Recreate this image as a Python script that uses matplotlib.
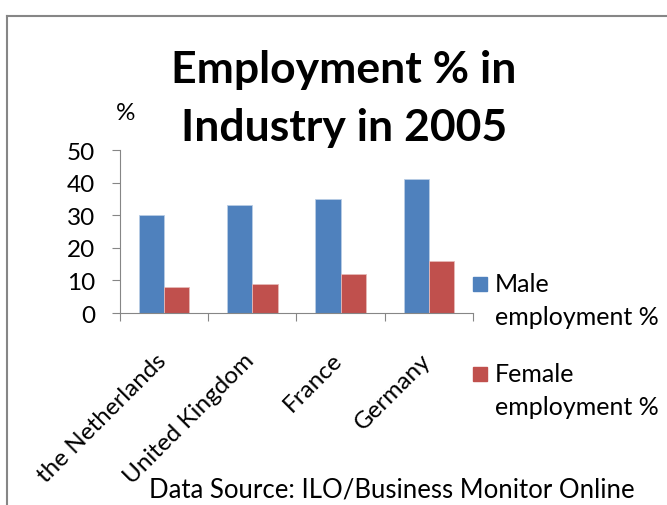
import matplotlib.pyplot as plt
from matplotlib.lines import Line2D
from matplotlib.patches import Rectangle
from matplotlib.transforms import ScaledTranslation
import numpy as np

plt.rcParams["font.family"] = ["Lato", "DejaVu Sans"]

countries = ["the Netherlands", "United Kingdom", "France", "Germany"]
male_pct = [30, 33, 35, 41]
female_pct = [8, 9, 12, 16]
y_ticks = [0, 10, 20, 30, 40, 50]
series_names = ["Male\nemployment %", "Female\nemployment %"]

BLUE = "#4f81bd"
RED = "#c0504d"
GREY = "#868686"

fig = plt.figure(figsize=(6.67, 5.06), dpi=100)
ax = fig.add_axes([0.18, 0.3794, 0.529, 0.3221])

x = np.arange(len(countries))
width = 0.286
ax.bar(x - width / 2, male_pct, width, color=BLUE, edgecolor="#b9cde5", linewidth=0.6)
ax.bar(x + width / 2, female_pct, width, color=RED, edgecolor="#e6b9b8", linewidth=0.6)

ax.set_xlim(-0.5, len(countries) - 0.5)
ax.set_ylim(0, 50)
ax.set_yticks(y_ticks)
ax.set_yticklabels([str(v) for v in y_ticks], fontsize=17.5)
# tick marks sit between the categories
ax.set_xticks(np.arange(len(countries) + 1) - 0.5)
ax.set_xticklabels([])
ax.tick_params(axis="x", length=6, color=GREY, direction="out")
ax.tick_params(axis="y", length=6, color=GREY, pad=12)
for side in ("top", "right"):
    ax.spines[side].set_visible(False)
for side in ("left", "bottom"):
    ax.spines[side].set_color(GREY)

# slanted category names under each group
offset = ScaledTranslation(-0.09, -0.36, fig.dpi_scale_trans)
for xi, name in zip(x, countries):
    ax.text(xi, 0, name, transform=ax.get_xaxis_transform() + offset,
            rotation=45, ha="right", va="top", rotation_mode="anchor",
            fontsize=17.5)

fig.text(0.516, 0.862, "Employment % in", ha="center", va="center",
         fontsize=32, fontweight="bold")
fig.text(0.516, 0.748, "Industry in 2005", ha="center", va="center",
         fontsize=32, fontweight="bold")
fig.text(0.188, 0.775, "%", ha="center", va="center", fontsize=17.5)
fig.text(0.587, 0.032, "Data Source: ILO/Business Monitor Online", ha="center",
         va="center", fontsize=18.5)

# legend: square next to the first line of each two-line label
W, H = 667, 506
for i, (name, col) in enumerate(zip(series_names, [BLUE, RED])):
    top = 278 + i * 90
    fig.add_artist(Rectangle((473 / W, 1 - (top + 14) / H), 14 / W, 14 / H,
                             transform=fig.transFigure, color=col))
    fig.text(495 / W, 1 - (top - 5) / H, name, ha="left", va="top",
             fontsize=18, linespacing=1.55)

# outer chart frame
fig.add_artist(Line2D([7 / W, 7 / W], [0, 1 - 17 / H], color=GREY, lw=1.5))
fig.add_artist(Line2D([7 / W, 1], [1 - 17 / H, 1 - 17 / H], color=GREY, lw=1.5))

fig.savefig("out.png", dpi=100)
